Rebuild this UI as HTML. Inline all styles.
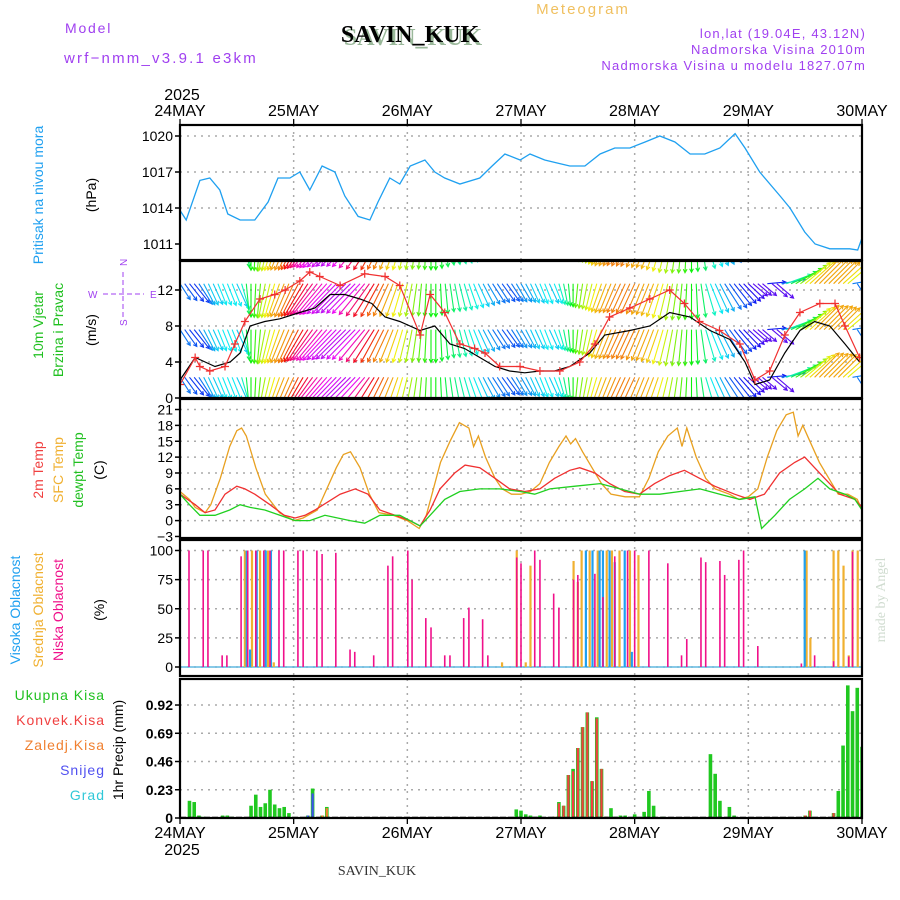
<!DOCTYPE html>
<html><head><meta charset="utf-8"><style>
body{margin:0;background:#fff;width:900px;height:900px;overflow:hidden}
svg{display:block;font-family:"Liberation Sans",sans-serif}
</style></head><body>
<svg id="chart" width="900" height="900" viewBox="0 0 900 900">
<g id="hdr">
<text x="65" y="33" font-size="14" fill="#a040f0" letter-spacing="1.8">Model</text>
<text x="64" y="63" font-size="15" fill="#a040f0" letter-spacing="2.2">wrf−nmm_v3.9.1 e3km</text>
<text x="413" y="45" font-size="24" font-weight="bold" font-family="Liberation Serif,serif" fill="#9ab89a" text-anchor="middle">SAVIN_KUK</text>
<text x="410" y="42" font-size="24" font-weight="bold" font-family="Liberation Serif,serif" fill="#000" text-anchor="middle">SAVIN_KUK</text>
<text x="583" y="14" font-size="15" fill="#f0c060" text-anchor="middle" letter-spacing="2">Meteogram</text>
<text x="866" y="38" font-size="13" fill="#a040f0" text-anchor="end" letter-spacing="1.2">lon,lat (19.04E, 43.12N)</text>
<text x="866" y="54" font-size="13" fill="#a040f0" text-anchor="end" letter-spacing="1.2">Nadmorska Visina 2010m</text>
<text x="866" y="70" font-size="13" fill="#a040f0" text-anchor="end" letter-spacing="1.2">Nadmorska Visina u modelu 1827.07m</text>
</g>
<g id="labels" font-size="14">
<text transform="translate(43,195) rotate(-90)" text-anchor="middle" fill="#1fa0f0">Pritisak na nivou mora</text>
<text transform="translate(96,195) rotate(-90)" text-anchor="middle" fill="#000">(hPa)</text>
<text transform="translate(43,325) rotate(-90)" text-anchor="middle" fill="#20c020">10m Vjetar</text>
<text transform="translate(63,330) rotate(-90)" text-anchor="middle" fill="#20c020">Brzina i Pravac</text>
<text transform="translate(96,330) rotate(-90)" text-anchor="middle" fill="#000">(m/s)</text>
<g fill="#a040f0" stroke="#a040f0" font-size="10">
<text x="88" y="298" stroke="none">W</text><text x="150" y="298" stroke="none">E</text>
<line x1="103" y1="294" x2="144" y2="294" stroke-dasharray="5,3"/><line x1="123" y1="272" x2="123" y2="318" stroke-dasharray="5,3"/>
<text transform="translate(127,266) rotate(-90)" stroke="none">N</text><text transform="translate(127,326) rotate(-90)" stroke="none">S</text>
</g>
<text transform="translate(43,470) rotate(-90)" text-anchor="middle" fill="#f04040">2m Temp</text>
<text transform="translate(63,470) rotate(-90)" text-anchor="middle" fill="#f0b030">SFC Temp</text>
<text transform="translate(83,470) rotate(-90)" text-anchor="middle" fill="#20c020">dewpt Temp</text>
<text transform="translate(104,470) rotate(-90)" text-anchor="middle" fill="#000">(C)</text>
<text transform="translate(20,610) rotate(-90)" text-anchor="middle" fill="#1fa0f0">Visoka Oblacnost</text>
<text transform="translate(43,610) rotate(-90)" text-anchor="middle" fill="#f0b030">Srednja Oblacnost</text>
<text transform="translate(63,610) rotate(-90)" text-anchor="middle" fill="#f0108a">Niska Oblacnost</text>
<text transform="translate(104,610) rotate(-90)" text-anchor="middle" fill="#000">(%)</text>
<text x="105" y="700" text-anchor="end" fill="#20c020" letter-spacing="1">Ukupna  Kisa</text>
<text x="105" y="725" text-anchor="end" fill="#f04040" letter-spacing="1">Konvek.Kisa</text>
<text x="105" y="750" text-anchor="end" fill="#f08030" letter-spacing="1">Zaledj.Kisa</text>
<text x="105" y="775" text-anchor="end" fill="#5050f0" letter-spacing="1">Snijeg</text>
<text x="105" y="800" text-anchor="end" fill="#30c8d8" letter-spacing="1">Grad</text>
<text transform="translate(123,750) rotate(-90)" text-anchor="middle" fill="#000">1hr Precip (mm)</text>
<text transform="translate(885,600) rotate(-90)" text-anchor="middle" fill="#d0dcd0" font-family="Liberation Serif,serif">made by Angel</text>
<text x="377" y="875" text-anchor="middle" fill="#333" font-family="Liberation Serif,serif" font-size="14">SAVIN_KUK</text>
</g>
<g id="plots"></g>
</svg>
<script>
const days=["24MAY","25MAY","26MAY","27MAY","28MAY","29MAY","30MAY"];
const presTicks=[1011,1014,1017,1020];
const windTicks=[0,4,8,12];
const tempTicks=[-3,0,3,6,9,12,15,18,21];
const cloudTicks=[0,25,50,75,100];
const precTicks=[0,0.23,0.46,0.69,0.92];
const presH=[0,1.3,4.2,6.3,8.4,10.1,12.7,15.8,18.6,20.7,23.2,25.3,27.4,30,32.7,34.8,37.6,40.1,41.8,44.3,46.4,48.6,51.7,53.8,55.9,59.1,63.3,65.9,68.6,71.8,73.9,77,80.2,82.3,85.5,88.7,91.8,95,98.2,101.3,104.5,107.7,110.8,114,117.2,119.3,122.4,126.7,128.8,131.9,134.1,137.2,141.4,143.1,144];
const presV=[1013.8,1013,1016.3,1016.5,1015.5,1013.5,1013,1013,1014.5,1016.5,1016.5,1017,1015.5,1017.5,1017,1015,1013.3,1013,1014.5,1016.5,1016,1017.5,1018,1017,1016.5,1016,1016.5,1017.5,1018.5,1018,1018.5,1018,1017.7,1017.5,1017.5,1018.5,1019,1019,1019.5,1020,1019.5,1018.5,1018.5,1019,1020.2,1019,1017,1015,1014,1012,1011,1010.6,1010.6,1010.5,1011.5];
const spdH=[0,3.2,5.3,7.4,10.6,12.7,14.8,17.9,21.1,25.3,28.5,31.7,34.8,38,40.5,43.3,46.4,50.7,53.8,57,60.1,63.3,66.5,69.6,72.8,76,79.1,82.3,86.5,89.7,95,99.2,103.4,107.7,111.9,116.1,119.3,121.4,124.5,127.7,130.9,134,137.2,140.4,143.5];
const spdV=[2,4.5,4,3.5,4,5,8,8.5,8.8,9.5,10,11.5,11.5,11,10.5,9,8.5,7.5,8,6,5.5,4.5,3.5,3,2.8,3,3,3.5,5,7,7.5,8,9.5,9,7.5,6.5,4,1.5,2,5,7.5,8.5,8,6,4];
const gustH=[0,3.2,4.2,6.3,9.5,11.6,13.7,16.9,20,22.2,25.3,27.4,29.5,33.8,39,43.3,46.4,50.7,52.8,55.9,59.1,62.2,64.4,67.5,71.8,76,80.2,84.4,87.6,90.7,95,99.2,103.4,106.5,109.7,113.9,118.2,121.4,124.5,127.7,130.9,135.1,138.3,140.4,143.5];
const gustV=[1.5,4.5,3.5,3,3.5,6,8.5,11,11.5,12,13,14,13.5,12.5,13.8,13.5,12.5,7,11.5,9.5,6,5.5,5,3.5,3.5,3,3,4,6,9,10,11,12,10.5,8.5,7.5,6,2,3,7,9.5,10.5,10.5,8,4.5];
const windDir=[300,295,290,290,300, 310,315,315,320,320,320,320,315,330, 350,0,5,10, 20,25,30,35,40,42, 45,50,55,60,65,70,72,75,78, 80,80,82,82,80,78,72,65, 58,52,48,45,40,35, 30,25,20,15,10, 5,0,0,355,350, 345,340,335,330,325,320,315, 310,305,300,300,295,295,300,305,305, 310,315,315,320,320,315,320,330, 340,350,0,10,15,20,25,30,35, 38,40,42,45,45,45,45,42,40,40,38,35,30, 25,20,15,10,5,0,355,345, 330,320,315,310,300,295,290,285, 280,275,270,270,270,265,270,270, 260,250,245,240,235, 230,228,225,225,225,225,225,225,228,230,260,300,330];
const t2H=[0,3.2,5.3,7.4,9.5,12,13.7,15.8,19,22,24.3,26.4,28.5,33.8,37,39.7,42.2,45.4,48.5,50.7,52.8,54.9,58,60.2,63.3,66.5,69.6,72.8,76,79.1,82.3,84.4,87.6,90.7,93.9,97,100.2,103.4,106.5,109.7,112.9,117.1,120.3,123.4,126.6,129.8,131.9,134,136.1,139.3,142.5,144];
const t2V=[5,3,1.5,2,5,6.5,6,5,3,1,0.5,1,2,5,6,5,2,1,0,-1,2,6,9,10.5,10,8,6,5.5,6,8,9.5,10,9,7,5.5,5,7,8.5,9.5,8,6.5,5,4,5,9,11,12,10,8,5,4,2.5];
const sfcH=[0,2,3.2,5.3,6.5,8.5,10.5,12,13,14,16,18,21,24,26,29,31,33,34.5,36,38,40,42,45,48,50.5,52,53.5,55,57,59,61,62,63,64.5,66.5,68,70,72,74,76,78,80,81.5,82.5,83.5,85,87,89,91,94,97,99,101,103,105,106,107,109,111,113,116,118,120,122,124,126,128,129.5,130.5,131.5,133,135,137,139,141,143,144];
const sfcV=[5.5,4,2.5,1.5,3,8,14,17,17.5,16,10,5,1.5,0,0.5,2,6,10,12.5,13,10,5,1.5,1,0,-1.5,1,6,11,15,18.5,17.5,14,16,12,8,6,5,5,5.5,7,11,14,16,14.5,15.5,13,10,7,5,4.5,4.5,8,13,16,17.5,14,17.5,12,8,6,5,4,4.5,6,12,17,20,20.5,16,18,15,11,8,5,5,4,2];
const tdH=[0,2,4.2,7.4,10.5,12.7,14.8,17.9,21.1,24.3,27.4,30.6,35.9,39,42.2,46.4,50.7,52.8,55.9,59.1,63.3,67.5,71.8,74.9,78.1,83.4,88.7,92.9,97.1,101.3,105.6,109.8,114,118.2,121.4,122.8,125.6,128.7,131.9,134.7,137.2,140.4,142.5,144];
const tdV=[5,3,1,1,2,3,2.5,2,1,0,0,1,0,-0.5,1,1,-1,1,4,5.5,6,6,5.5,5,6,6.5,7,6,5,5,5.5,6,5,4,4.5,-1.5,1,4,6,8,6,5,4,2];
const lowH=[1.9,4.9,5.9,8.9,9.9,12.9,14.3,16,17.7,19,20.9,21.9,24.9,26,28.9,30,32.9,35.9,36.9,40.9,43.9,44.9,48.1,49,51.9,53,55.9,57,59.9,61,63.9,65,71.1,72,74.9,76,78.9,80,83.1,84,87.6,89.3,91.8,94.5,96,99,103,105.9,107,110,111,114,115,118,119,122,131.2,134,138,141.2,142];
const lowV=[100,100,100,10,10,95,100,100,100,100,100,100,100,100,100,97,98,15,13,10,87,95,100,75,42,34,10,10,42,51,41,10,94,89,100,92,63,51,75,79,80,60,95,100,100,100,89,10,24,94,90,91,79,92,100,18,3,10,5,9,99];
const midH=[13.7,15.2,16.9,18.6,19.8,68,71.1,73,74,83.1,84,84.8,86.5,88.2,90.1,91.2,92.8,95,96.8,132.3,133.1,138,139,140.1,141.2,142,143.1,144];
const midV=[100,100,100,100,4,4,100,4,87,91,73,100,100,100,100,100,100,100,96,100,25,100,100,87,10,100,100,4];
const highH=[14.1,14.8,16.2,18.1,19.2,85.7,87.1,88.6,89.3,90.7,91.8,93.9,95.4,131.9];
const highV=[100,15,100,100,100,100,100,100,100,100,90,100,13,100];
const prH=[2,3,4,5,9,10,11,15,16,17,18,19,20,21,22,23,27,28,30,31,71,72,73,74,75,76,79,80,81,82,83,84,85,86,87,88,89,90,91,92,93,94,96,98,99,100,102,112,113,114,116,117,132,133,138,139,140,141,142,143,144];
const prTotal=[.14,.13,.02,.01,.02,.02,.01,.10,.19,.09,.12,.23,.11,.08,.09,.04,.02,.24,.02,.09,.07,.06,.03,.02,.01,.02,.01,.13,.10,.35,.40,.57,.74,.86,.30,.82,.40,.01,.08,.01,.02,.02,.03,.05,.22,.10,.01,.52,.36,.14,.09,.02,.02,.06,.04,.22,.59,1.08,.87,1.06,.58];
const prConv=[0,0,0,0,0,0,0,0,0,0,0,0,0,0,0,0,0,0,0,0,0,0,0,0,0,0,.01,.12,.1,.35,.38,.57,.74,.86,.30,.81,.40,.01,0,0,0,0,0,0,0,0,0,0,0,0,0,0,.02,.06,.04,0,0,0,0,0,0];
const prSnow=[0,0,0,0,0,0,0,0,0,0,0,0,0,0,0,0,.02,.2,0,0,0,0,0,0,0,0,0,0,0,0,0,0,0,0,0,0,0,0,0,0,0,0,0,0,0,0,0,0,0,0,0,0,0,0,0,0,0,0,0,0,0];
const prFrz=[0,0,0,0,0,0,0,0,0,0,0,0,0,0,0,0,0,0,.02,.08,0,0,0,0,0,0,0,0,0,0,0,0,0,0,0,0,0,0,0,0,0,0,0,0,0,0,0,0,0,0,0,0,0,0,0,0,0,0,0,0,0];

const NS="http://www.w3.org/2000/svg";
const root=document.getElementById('plots');
function mk(tag,at,parent){const e=document.createElementNS(NS,tag);for(const k in at)e.setAttribute(k,at[k]);(parent||root).appendChild(e);return e;}
const X0=180,X1=862;
const xH=h=>X0+h*(X1-X0)/144;
const panels={
 pres:{top:125,bot:260,y:v=>136+(1020-v)*12,ticks:presTicks,fmt:v=>String(v)},
 wind:{top:261,bot:398,y:v=>398-9*v,ticks:windTicks,fmt:v=>String(v)},
 temp:{top:399,bot:538,y:v=>520.6-5.29*v,ticks:tempTicks,fmt:v=>v<0?'−'+(-v):String(v)},
 cloud:{top:540,bot:676,y:v=>667-1.165*v,ticks:cloudTicks,fmt:v=>String(v)},
 prec:{top:679,bot:818,y:v=>818-122.8*v,ticks:precTicks,fmt:v=>v===0?'0':String(v)}
};
for(const key in panels){
 const p=panels[key];
 const g=mk('g',{});
 
 
 const clip=mk('clipPath',{id:'clip-'+key},g);
 mk('rect',{x:X0,y:p.top,width:X1-X0,height:p.bot-p.top},clip);
 p.g=mk('g',{'clip-path':'url(#clip-'+key+')'},g);
 p.frame=g;
 for(let i=1;i<6;i++){const gl=mk('line',{x1:xH(i*24),x2:xH(i*24),y1:p.top,y2:p.bot,stroke:'#aaa','stroke-width':1.5,'stroke-dasharray':'2,5'},p.g);
 
 }
 p.ticks.forEach(t=>{const yy=p.y(t);
  if(t!==p.ticks[0]||key==='cloud'){const l=mk('line',{x1:X0,x2:X1,y1:yy,y2:yy,stroke:'#aaa','stroke-width':1.5,'stroke-dasharray':'2,5'},p.g);
  
  }
  mk('line',{x1:X0-5,x2:X0,y1:yy,y2:yy,stroke:'#000','stroke-width':1.5},g);
  const tx=mk('text',{x:X0-7,y:yy+5,'text-anchor':'end','font-size':14,fill:'#000','font-weight':key==='prec'?'bold':'normal'},g);
  tx.textContent=p.fmt(t);
  
  
 });
}
function line(p,H,V,color,w,name){
 const d=H.map((h,i)=>(i?'L':'M')+xH(h).toFixed(1)+','+p.y(V[i]).toFixed(1)).join('');
 const e=mk('path',{d:d,fill:'none',stroke:color,'stroke-width':w},p.g);
 
 
 return e;
}
line(panels.pres,presH,presV,'#1fa0f0',1.3,'pressure-line');
function interp(H,V,h){for(let i=1;i<H.length;i++){if(h<=H[i]){const f=(h-H[i-1])/(H[i]-H[i-1]);return V[i-1]+f*(V[i]-V[i-1]);}}return V[V.length-1];}
function hueOf(d){const ds=d>180?d-360:d;
 if(ds<=0&&ds>=-90)return 120+(-ds)*1.55;
 if(ds<-90)return 260-(-90-ds)*4.9;
 if(ds<=45)return 120-2*ds;
 return 30-2.8*(ds-45);}
const wp=panels.wind;
[2.3,7.6,12.7,17.9].forEach(base=>{
 windDir.forEach((d,h)=>{
  const s=interp(spdH,spdV,h);
  const L=14+2.4*s;
  const ds=d>180?d-360:d;
  const geo=Math.abs(ds)<=90?ds*0.55:ds;
  const a=(geo+180)*Math.PI/180;
  const dx=Math.sin(a)*L, dy=-Math.cos(a)*L;
  const x1=xH(h), y1=wp.y(base), x2=x1+dx, y2=y1+dy;
  const hue=((hueOf(d)%360)+360)%360;
  const col='hsl('+hue.toFixed(0)+',90%,50%)';
  const ang=Math.atan2(y2-y1,x2-x1);
  const hx1=x2-4*Math.cos(ang-0.5),hy1=y2-4*Math.sin(ang-0.5),hx2=x2-4*Math.cos(ang+0.5),hy2=y2-4*Math.sin(ang+0.5);
  const ar=mk('path',{d:`M${x1.toFixed(1)},${y1.toFixed(1)}L${x2.toFixed(1)},${y2.toFixed(1)}M${hx1.toFixed(1)},${hy1.toFixed(1)}L${x2.toFixed(1)},${y2.toFixed(1)}L${hx2.toFixed(1)},${hy2.toFixed(1)}`,stroke:col,'stroke-width':1.1,fill:'none'},wp.g);
  
  
 });
});
line(wp,spdH,spdV,'#000',1.2,'wind-speed-line');
line(wp,gustH,gustV,'#f03030',1.2,'wind-gust-line');
gustH.forEach((h,i)=>{const x=xH(h),y=wp.y(gustV[i]);
 const m=mk('path',{d:`M${x-4},${y}H${x+4}M${x},${y-4}V${y+4}`,stroke:'#f03030','stroke-width':1.2},wp.g);
 
 });
const tp=panels.temp;
line(tp,sfcH,sfcV,'#e8a020',1.3,'sfc-temp-line');
line(tp,t2H,t2V,'#f03030',1.3,'2m-temp-line');
line(tp,tdH,tdV,'#20d020',1.3,'dewpoint-line');
const cp=panels.cloud;
mk('line',{x1:X0,x2:X1,y1:cp.y(0),y2:cp.y(0),stroke:'#60b8e0','stroke-width':1.5},cp.g);
function bars(H,V,col,name,w){H.forEach((h,i)=>{const x=xH(h);
 const b=mk('rect',{x:x-w/2,y:cp.y(V[i]),width:w,height:cp.y(0)-cp.y(V[i]),fill:col},cp.g);
 
 });}
bars(midH,midV,'#f0b030','mid-cloud-bar',2.2);
bars(highH,highV,'#1fa0f0','high-cloud-bar',2.2);
bars(lowH,lowV,'#f0108a','low-cloud-bar',1.6);
const pp=panels.prec;
prH.forEach((h,i)=>{const x=xH(h);
 const r=mk('rect',{x:x-1.8,y:pp.y(prTotal[i]),width:3.6,height:pp.y(0)-pp.y(prTotal[i]),fill:'#20c820'},pp.g);
 
 
 if(prConv[i]>0){const c=mk('rect',{x:x-1.1,y:pp.y(prConv[i]),width:2.2,height:pp.y(0)-pp.y(prConv[i]),fill:'#f04040'},pp.g);
  
  }
 if(prSnow[i]>0){const s=mk('rect',{x:x-1.1,y:pp.y(prSnow[i]),width:2.2,height:pp.y(0)-pp.y(prSnow[i]),fill:'#4050f0'},pp.g);
  
  }
 if(prFrz[i]>0){const f=mk('rect',{x:x-1.1,y:pp.y(prFrz[i]),width:2.2,height:pp.y(0)-pp.y(prFrz[i]),fill:'#f08030'},pp.g);
  
  }
});
mk('line',{x1:X0,x2:X1,y1:pp.y(0),y2:pp.y(0),stroke:'#000','stroke-width':2.5,'stroke-dasharray':'6,2'},pp.g);
for(const key in panels){const p=panels[key];
 mk('rect',{x:X0,y:p.top,width:X1-X0,height:p.bot-p.top,fill:'none',stroke:'#000','stroke-width':2.2},p.frame);}
days.forEach((d,i)=>{const x=xH(i*24);
 const t=mk('text',{x:x,y:116,'text-anchor':'middle','font-size':16,fill:'#000'});t.textContent=d;
 
 
 const b=mk('text',{x:x,y:838,'text-anchor':'middle','font-size':16,fill:'#000'});b.textContent=d;
 
 
 mk('line',{x1:x,x2:x,y1:119,y2:125,stroke:'#000','stroke-width':1.3});
 mk('line',{x1:x,x2:x,y1:818,y2:824,stroke:'#000','stroke-width':1.3});
});
const y1=mk('text',{x:182,y:100,'text-anchor':'middle','font-size':16});y1.textContent='2025';


const y2=mk('text',{x:182,y:855,'text-anchor':'middle','font-size':16});y2.textContent='2025';


</script>
</body></html>
